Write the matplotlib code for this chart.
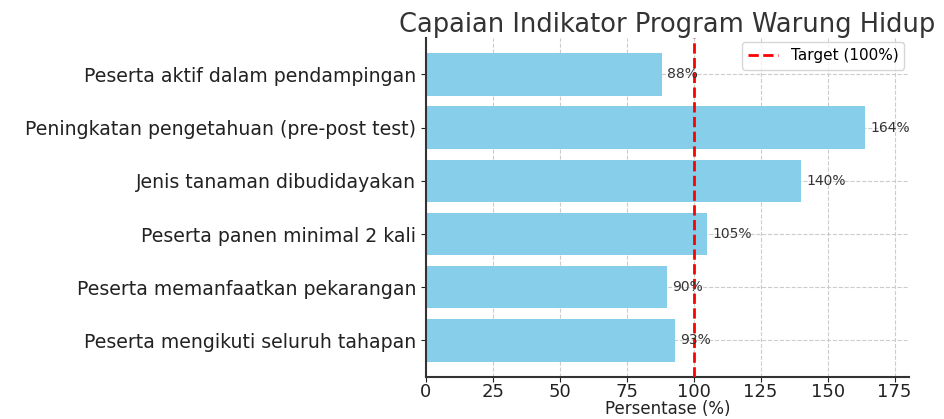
import matplotlib
matplotlib.use("Agg")
import matplotlib.pyplot as plt

categories = [
    "Peserta mengikuti seluruh tahapan",
    "Peserta memanfaatkan pekarangan",
    "Peserta panen minimal 2 kali",
    "Jenis tanaman dibudidayakan",
    "Peningkatan pengetahuan (pre-post test)",
    "Peserta aktif dalam pendampingan",
]
values = [93, 90, 105, 140, 164, 88]
target = 100

fig = plt.figure(figsize=(9.44, 4.19), dpi=100)
ax = fig.add_axes([0.451, 0.1, 0.512, 0.81])

ax.barh(categories, values, color="skyblue", height=0.8, zorder=2)
ax.axvline(target, color="red", linestyle="--", linewidth=2, label="Target (100%)", zorder=3)

for i, v in enumerate(values):
    ax.text(v + 2, i, f"{v}%", va="center", ha="left", fontsize=10, color="#333333", zorder=4)

ax.set_xlim(0, max(values) * 1.1)
ax.set_xticks([0, 25, 50, 75, 100, 125, 150, 175])
ax.grid(True, linestyle="--", color="#cccccc", linewidth=0.8, zorder=0)
ax.set_axisbelow(True)
for s in ["top", "right"]:
    ax.spines[s].set_visible(False)
for s in ["left", "bottom"]:
    ax.spines[s].set_color("#333333")
    ax.spines[s].set_linewidth(1.5)

ax.tick_params(axis="y", labelsize=13.6, colors="#222222")
ax.tick_params(axis="x", labelsize=13, colors="#222222", pad=1)
ax.set_xlabel("Persentase (%)", fontsize=12, color="#222222", labelpad=-1)
ax.set_title("Capaian Indikator Program Warung Hidup", fontsize=18.5, color="#333333", pad=4)
ax.legend(loc="upper right", fontsize=11, borderaxespad=0.3)

fig.savefig("out.png", dpi=100)
